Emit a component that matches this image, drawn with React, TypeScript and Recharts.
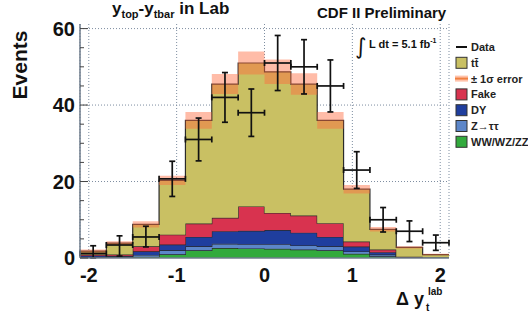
import React from 'react';
import { ComposedChart, Area, Scatter, ErrorBar, XAxis, YAxis, CartesianGrid, Legend } from 'recharts';

// 14 bins of 0.3 from -2.1 to 2.1
const binEdges = [-2.1, -1.8, -1.5, -1.2, -0.9, -0.6, -0.3, 0, 0.3, 0.6, 0.9, 1.2, 1.5, 1.8, 2.1];
const binCenters = [-1.95, -1.65, -1.35, -1.05, -0.75, -0.45, -0.15, 0.15, 0.45, 0.75, 1.05, 1.35, 1.65, 1.95];

const diboson = [0.1, 0.15, 0.3, 0.95, 2.0, 2.6, 2.5, 2.4, 2.2, 2.0, 1.1, 0.45, 0.05, 0.02];
const ztautau = [0.15, 0.15, 0.5, 1.05, 1.05, 1.1, 1.1, 1.2, 1.1, 1.05, 0.6, 0.45, 0.05, 0.03];
const drellYan = [0.35, 0.2, 0.95, 1.5, 2.45, 3.3, 3.5, 3.7, 3.3, 2.45, 1.3, 0.6, 0.1, 0.05];
const fakes = [0.3, 0.4, 1.3, 2.6, 3.5, 3.5, 6.4, 4.5, 4.5, 3.6, 1.3, 0.7, 0.15, 0.05];
const ttbar = [0.9, 3.0, 5.75, 14.2, 27, 35, 37.5, 36.9, 34.4, 26.9, 13.7, 5.3, 2.45, 0.75];
const bkgError = [0.4, 0.5, 0.8, 1.2, 2.2, 2.6, 3.0, 3.2, 2.8, 2.2, 1.1, 0.6, 0.3, 0.2];

const dataCounts = [1.2, 3.4, 5.5, 20.7, 31, 42, 38, 51, 50, 45, 23, 10, 7, 4];
const dataErrLow = [1.2, 2.9, 2.6, 4.6, 5.6, 6.5, 6.2, 7.2, 7.1, 6.8, 4.8, 3.2, 2.7, 2.0];
const dataErrHigh = [2.0, 2.4, 2.8, 4.6, 5.6, 6.5, 6.2, 7.2, 7.1, 6.8, 4.8, 3.2, 2.7, 2.0];

const xTicks = [-2, -1, 0, 1, 2];
const yTicks = [0, 5, 10, 15, 20, 25, 30, 35, 40, 45, 50, 55, 60];
const gridY = [20, 40, 60];
const Y_MAX = 61.2;

const COLORS = {
  tt: '#c9c063',
  fake: '#d8334f',
  dy: '#1f3e9e',
  ztt: '#5c86c9',
  ww: '#32aa3d',
  band: '#ff6a3d',
  frame: '#6f7c8c',
  grid: '#7d8da0',
};
const FONT = '"Liberation Sans", Arial, Helvetica, sans-serif';

// step areas need one row per edge, last edge repeats the last bin
const histRows = binEdges.map((x, i) => {
  const b = Math.min(i, binCenters.length - 1);
  const total = diboson[b] + ztautau[b] + drellYan[b] + fakes[b] + ttbar[b];
  return {
    x,
    ww: diboson[b],
    ztt: ztautau[b],
    dy: drellYan[b],
    fake: fakes[b],
    tt: ttbar[b],
    band: [total - bkgError[b], total + bkgError[b]],
  };
});

const dataRows = binCenters.map((x, i) => ({
  x,
  y: dataCounts[i],
  ex: 0.15,
  ey: [dataErrLow[i], dataErrHigh[i]],
}));

const gridRows = (p: any) => {
  if (p && p.yAxis && typeof p.yAxis.scale === 'function') return gridY.map((v) => p.yAxis.scale(v));
  const off = p.offset;
  return gridY.map((v) => off.top + off.height * (1 - v / Y_MAX));
};

const YTick = (props: any) => {
  const { x, y, payload } = props;
  const v = payload.value;
  const major = v % 20 === 0;
  return (
    <g>
      <line x1={x + 5} x2={x + 5 + (major ? 8 : 4)} y1={y} y2={y} stroke="#444" strokeWidth={1} />
      {major && (
        <text x={x} y={y} dy={7} textAnchor="end" fontFamily={FONT} fontWeight="bold" fontSize={20} fill="#111">
          {v}
        </text>
      )}
    </g>
  );
};

const XTick = (props: any) => {
  const { x, y, payload } = props;
  return (
    <text x={x} y={y} dy={24} textAnchor="middle" fontFamily={FONT} fontWeight="bold" fontSize={20} fill="#111">
      {payload.value}
    </text>
  );
};

const legendItems = [
  { kind: 'line', label: 'Data' },
  { kind: 'box', label: 't\u0074\u0304', color: COLORS.tt },
  { kind: 'band', label: '\u00b1 1\u03c3 error' },
  { kind: 'box', label: 'Fake', color: COLORS.fake },
  { kind: 'box', label: 'DY', color: COLORS.dy },
  { kind: 'box', label: 'Z\u2192\u03c4\u03c4', color: COLORS.ztt },
  { kind: 'box', label: 'WW/WZ/ZZ', color: COLORS.ww },
];

const renderLegend = () => (
  <svg width={80} height={120}>
    {legendItems.map((it, i) => {
      const cy = 9 + i * 15.8;
      return (
        <g key={it.label}>
          {it.kind === 'line' && <line x1={4} x2={15} y1={cy} y2={cy} stroke="#111" strokeWidth={2} />}
          {it.kind === 'box' && (
            <rect x={4} y={cy - 5.5} width={11} height={11} fill={it.color} stroke="#333" strokeWidth={1} />
          )}
          {it.kind === 'band' && (
            <g>
              <rect x={3} y={cy - 3} width={13} height={6} fill="#ffc2aa" />
              <line x1={3} x2={16} y1={cy} y2={cy} stroke="#f08040" strokeWidth={2} />
            </g>
          )}
          <text x={19} y={cy} dy={4} fontFamily={FONT} fontWeight="bold" fontSize={11} fill="#222">
            {it.label}
          </text>
        </g>
      );
    })}
  </svg>
);

const Labels = () => (
  <svg width={528} height={315} style={{ position: 'absolute', left: 0, top: 0, pointerEvents: 'none' }}>
    <text x={112} y={14} fontFamily={FONT} fontWeight="bold" fontSize={17} fill="#111">
      y<tspan fontSize={11} dy={4}>top</tspan>
      <tspan dy={-4}>-y</tspan>
      <tspan fontSize={11} dy={4}>tbar</tspan>
      <tspan dy={-4}> in Lab</tspan>
    </text>
    <text x={317} y={18} fontFamily={FONT} fontWeight="bold" fontSize={15} fill="#111">
      CDF II Preliminary
    </text>
    <text x={355} y={54} fontFamily={'"DejaVu Sans", sans-serif'} fontSize={22} fill="#111">
      {'\u222b'}
    </text>
    <text x={369} y={48} fontFamily={FONT} fontWeight="bold" fontSize={11} fill="#111">
      L dt = 5.1 fb<tspan fontSize={7} dy={-5}>-1</tspan>
    </text>
    <text
      x={0}
      y={0}
      transform="translate(27 65) rotate(-90)"
      textAnchor="middle"
      fontFamily={FONT}
      fontWeight="bold"
      fontSize={21}
      fill="#111"
    >
      Events
    </text>
    <text x={396} y={305} fontFamily={FONT} fontWeight="bold" fontSize={18} fill="#111">
      {'\u0394 y'}
    </text>
    <text x={428} y={295} fontFamily={FONT} fontWeight="bold" fontSize={10} fill="#111">
      lab
    </text>
    <text x={426} y={311} fontFamily={FONT} fontWeight="bold" fontSize={10} fill="#111">
      t
    </text>
  </svg>
);

export default function App() {
  return (
    <div style={{ position: 'absolute', left: 0, top: 0, width: 528, height: 315, background: '#fff' }}>
      <ComposedChart width={528} height={315} data={histRows} margin={{ top: 24, right: 79, left: 40, bottom: 27 }}>
        <CartesianGrid
          stroke={COLORS.grid}
          strokeDasharray="1 2"
          strokeWidth={1}
          horizontalCoordinatesGenerator={gridRows}
        />
        <XAxis
          dataKey="x"
          type="number"
          domain={[-2.1, 2.1]}
          ticks={xTicks}
          allowDataOverflow
          height={30}
          tickSize={0}
          tickMargin={0}
          tick={<XTick />}
          axisLine={{ stroke: COLORS.frame, strokeWidth: 1.5 }}
        />
        <XAxis
          xAxisId="top"
          orientation="top"
          dataKey="x"
          type="number"
          domain={[-2.1, 2.1]}
          ticks={xTicks}
          allowDataOverflow
          height={0}
          tick={false}
          tickLine={false}
          axisLine={{ stroke: COLORS.frame, strokeWidth: 1.5 }}
        />
        <YAxis
          type="number"
          domain={[0, Y_MAX]}
          ticks={yTicks}
          allowDataOverflow
          width={40}
          tickSize={0}
          tickMargin={5}
          interval={0}
          tick={<YTick />}
          axisLine={{ stroke: COLORS.frame, strokeWidth: 1.5 }}
        />
        <YAxis
          yAxisId="right"
          orientation="right"
          type="number"
          domain={[0, Y_MAX]}
          ticks={gridY}
          allowDataOverflow
          width={0}
          tick={false}
          tickLine={false}
          axisLine={{ stroke: COLORS.frame, strokeWidth: 1.5 }}
        />
        <Area type="stepAfter" dataKey="ww" stackId="bkg" fill={COLORS.ww} fillOpacity={1} stroke="#2a2a2a" strokeWidth={1.2} isAnimationActive={false} />
        <Area type="stepAfter" dataKey="ztt" stackId="bkg" fill={COLORS.ztt} fillOpacity={1} stroke="#2a2a2a" strokeWidth={1.2} isAnimationActive={false} />
        <Area type="stepAfter" dataKey="dy" stackId="bkg" fill={COLORS.dy} fillOpacity={1} stroke="#2a2a2a" strokeWidth={1.2} isAnimationActive={false} />
        <Area type="stepAfter" dataKey="fake" stackId="bkg" fill={COLORS.fake} fillOpacity={1} stroke="#2a2a2a" strokeWidth={1.2} isAnimationActive={false} />
        <Area type="stepAfter" dataKey="tt" stackId="bkg" fill={COLORS.tt} fillOpacity={1} stroke="#2a2a2a" strokeWidth={1.2} isAnimationActive={false} />
        <Area type="stepAfter" dataKey="band" fill={COLORS.band} fillOpacity={0.45} stroke="none" isAnimationActive={false} />
        <Scatter data={dataRows} dataKey="y" shape={() => <g />} isAnimationActive={false}>
          <ErrorBar dataKey="ex" direction="x" width={3} stroke="#111" strokeWidth={1.7} />
          <ErrorBar dataKey="ey" direction="y" width={3} stroke="#111" strokeWidth={1.7} />
        </Scatter>
        <Legend
          layout="vertical"
          align="center"
          verticalAlign="middle"
          content={renderLegend}
          wrapperStyle={{ position: 'absolute', left: 452, top: 38, width: 80, height: 120 }}
        />
      </ComposedChart>
      <Labels />
    </div>
  );
}
